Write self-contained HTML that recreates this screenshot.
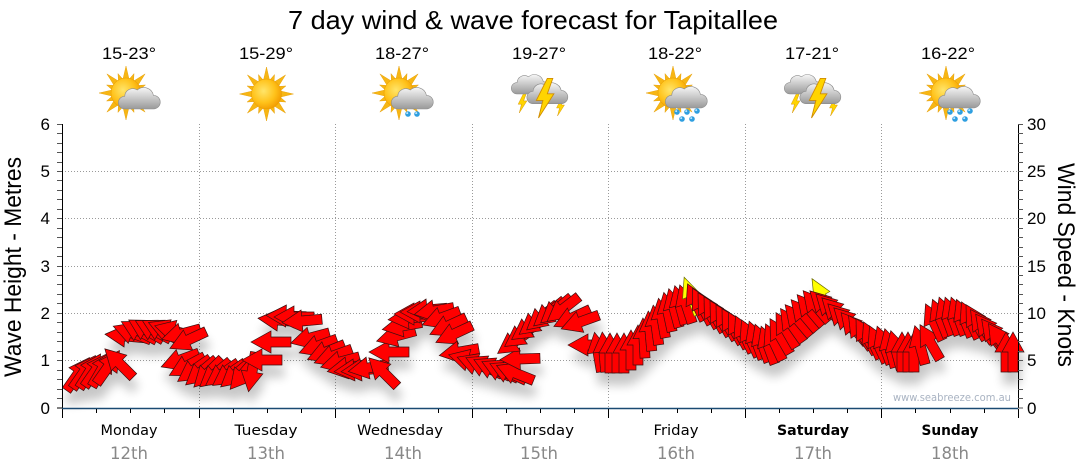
<!DOCTYPE html>
<html>
<head>
<meta charset="utf-8">
<style>
html,body{margin:0;padding:0;background:#fff;}
svg{display:block;}
</style>
</head>
<body>
<svg width="1080" height="475" viewBox="0 0 1080 475" xmlns="http://www.w3.org/2000/svg" xmlns:xlink="http://www.w3.org/1999/xlink">
<defs>
  <radialGradient id="sg" cx="0.4" cy="0.4" r="0.65">
    <stop offset="0" stop-color="#ffe56a"/>
    <stop offset="0.6" stop-color="#ffc21a"/>
    <stop offset="1" stop-color="#f29a00"/>
  </radialGradient>
  <linearGradient id="cg" x1="0" y1="0" x2="0" y2="1">
    <stop offset="0" stop-color="#f6f6f6"/>
    <stop offset="1" stop-color="#9a9a9a"/>
  </linearGradient>
  <g id="sun">
    <g fill="#f7b614" stroke="#e39a00" stroke-width="0.4">
      <polygon points="-3.5,-12 0,-27 3.5,-12"/>
      <polygon points="-3.5,-12 0,-27 3.5,-12" transform="rotate(45)"/>
      <polygon points="-3.5,-12 0,-27 3.5,-12" transform="rotate(90)"/>
      <polygon points="-3.5,-12 0,-27 3.5,-12" transform="rotate(135)"/>
      <polygon points="-3.5,-12 0,-27 3.5,-12" transform="rotate(180)"/>
      <polygon points="-3.5,-12 0,-27 3.5,-12" transform="rotate(225)"/>
      <polygon points="-3.5,-12 0,-27 3.5,-12" transform="rotate(270)"/>
      <polygon points="-3.5,-12 0,-27 3.5,-12" transform="rotate(315)"/>
      <polygon points="-3,-12 0,-21 3,-12" transform="rotate(22.5)"/>
      <polygon points="-3,-12 0,-21 3,-12" transform="rotate(67.5)"/>
      <polygon points="-3,-12 0,-21 3,-12" transform="rotate(112.5)"/>
      <polygon points="-3,-12 0,-21 3,-12" transform="rotate(157.5)"/>
      <polygon points="-3,-12 0,-21 3,-12" transform="rotate(202.5)"/>
      <polygon points="-3,-12 0,-21 3,-12" transform="rotate(247.5)"/>
      <polygon points="-3,-12 0,-21 3,-12" transform="rotate(292.5)"/>
      <polygon points="-3,-12 0,-21 3,-12" transform="rotate(337.5)"/>
    </g>
    <circle r="15" fill="url(#sg)" stroke="#e89c00" stroke-width="0.5"/>
  </g>
  <path id="cloud" d="M-17,11 A7,7 0 0 1 -17,-3 A9,9 0 0 1 -3,-10 A11,11 0 0 1 15,-4 A7.5,7.5 0 0 1 15,11 Z" fill="url(#cg)" stroke="#8c8c8c" stroke-width="0.7"/>
  <polygon id="bolt" points="3,-16 -7,4 -1,4 -5,20 9,-2 3,-2 8,-16" fill="#ffd400" stroke="#d08c00" stroke-width="0.8"/>
  <g id="drop"><circle r="2.8" fill="#2f9fe0"/><circle cx="-0.8" cy="-0.9" r="1" fill="#bfe6ff"/></g>
  <polygon id="a" points="0,-20 11,0 5,0 5,20 -5,20 -5,0 -11,0" fill="#ff0000" stroke="#3a1010" stroke-width="0.7"/>
  <polygon id="ay" points="0,-20 9,0 4,0 4,20 -4,20 -4,0 -9,0" fill="#ffff00" stroke="#6a6a00" stroke-width="0.7"/>
  <filter id="sh" x="-10%" y="-30%" width="120%" height="180%">
    <feGaussianBlur in="SourceAlpha" stdDeviation="5"/>
    <feOffset dx="2" dy="12" result="b"/>
    <feComponentTransfer><feFuncA type="linear" slope="0.22"/></feComponentTransfer>
    <feMerge><feMergeNode/><feMergeNode in="SourceGraphic"/></feMerge>
  </filter>
</defs>

<text x="533" y="29" font-family="'Liberation Sans', 'DejaVu Sans', sans-serif" font-size="26" text-anchor="middle" textLength="490" lengthAdjust="spacingAndGlyphs" fill="#000">7 day wind &amp; wave forecast for Tapitallee</text>

<g font-family="'Liberation Sans', 'DejaVu Sans', sans-serif" font-size="17" text-anchor="middle" fill="#000">
  <text x="129" y="59" textLength="54" lengthAdjust="spacingAndGlyphs">15-23°</text>
  <text x="266" y="59" textLength="54" lengthAdjust="spacingAndGlyphs">15-29°</text>
  <text x="402" y="59" textLength="54" lengthAdjust="spacingAndGlyphs">18-27°</text>
  <text x="539" y="59" textLength="54" lengthAdjust="spacingAndGlyphs">19-27°</text>
  <text x="675" y="59" textLength="54" lengthAdjust="spacingAndGlyphs">18-22°</text>
  <text x="812" y="59" textLength="54" lengthAdjust="spacingAndGlyphs">17-21°</text>
  <text x="948" y="59" textLength="54" lengthAdjust="spacingAndGlyphs">16-22°</text>
</g>

<g transform="translate(130,94)">
  <use xlink:href="#sun" transform="translate(-4,-1)"/>
  <use xlink:href="#cloud" transform="translate(10,5) scale(0.9)"/>
</g>
<g transform="translate(266.5,94)">
  <use xlink:href="#sun"/>
</g>
<g transform="translate(403,94)">
  <use xlink:href="#sun" transform="translate(-4,-1)"/>
  <use xlink:href="#cloud" transform="translate(10,5) scale(0.9)"/>
  <use xlink:href="#drop" transform="translate(5,20)"/>
  <use xlink:href="#drop" transform="translate(14,20)"/>
</g>
<g transform="translate(540,94)">
  <use xlink:href="#bolt" transform="translate(-18,8) scale(0.55)"/>
  <use xlink:href="#cloud" transform="translate(-9,-9) scale(0.82)"/>
  <use xlink:href="#bolt" transform="translate(20,12) scale(0.5)"/>
  <use xlink:href="#cloud" transform="translate(8,0) scale(0.88)"/>
  <use xlink:href="#bolt" transform="translate(4,2) scale(1.1)"/>
</g>
<g transform="translate(677,94)">
  <use xlink:href="#sun" transform="translate(-4,-1)"/>
  <use xlink:href="#cloud" transform="translate(10,4) scale(0.9)"/>
  <use xlink:href="#drop" transform="translate(0,18)"/>
  <use xlink:href="#drop" transform="translate(10,18)"/>
  <use xlink:href="#drop" transform="translate(20,17)"/>
  <use xlink:href="#drop" transform="translate(5,25)"/>
  <use xlink:href="#drop" transform="translate(15,25)"/>
</g>
<g transform="translate(813,94)">
  <use xlink:href="#bolt" transform="translate(-18,8) scale(0.55)"/>
  <use xlink:href="#cloud" transform="translate(-9,-9) scale(0.82)"/>
  <use xlink:href="#bolt" transform="translate(20,12) scale(0.5)"/>
  <use xlink:href="#cloud" transform="translate(8,0) scale(0.88)"/>
  <use xlink:href="#bolt" transform="translate(4,2) scale(1.1)"/>
</g>
<g transform="translate(950,94)">
  <use xlink:href="#sun" transform="translate(-4,-1)"/>
  <use xlink:href="#cloud" transform="translate(10,4) scale(0.9)"/>
  <use xlink:href="#drop" transform="translate(0,18)"/>
  <use xlink:href="#drop" transform="translate(10,18)"/>
  <use xlink:href="#drop" transform="translate(20,17)"/>
  <use xlink:href="#drop" transform="translate(5,25)"/>
  <use xlink:href="#drop" transform="translate(15,25)"/>
</g>

<path d="M62 360.5H1018M62 313.5H1018M62 266.5H1018M62 218.5H1018M62 171.5H1018M199.5 124V408M335.5 124V408M472.5 124V408M608.5 124V408M745.5 124V408M881.5 124V408" stroke="#9a9a9a" stroke-width="1" stroke-dasharray="1,2" fill="none"/>

<text x="1011" y="401" font-family="'DejaVu Sans', 'Liberation Sans', sans-serif" font-size="11" text-anchor="end" fill="#a9b3c2" textLength="118" lengthAdjust="spacingAndGlyphs">www.seabreeze.com.au</text>

<g filter="url(#sh)">
<use xlink:href="#a" transform="translate(78,374) rotate(35)"/>
<use xlink:href="#a" transform="translate(84,372) rotate(35)"/>
<use xlink:href="#a" transform="translate(90,371) rotate(32)"/>
<use xlink:href="#a" transform="translate(96,370) rotate(35)"/>
<use xlink:href="#a" transform="translate(102,369) rotate(30)"/>
<use xlink:href="#a" transform="translate(108,367) rotate(35)"/>
<use xlink:href="#a" transform="translate(119,363) rotate(-45)"/>
<use xlink:href="#a" transform="translate(125,336) rotate(-85)"/>
<use xlink:href="#a" transform="translate(132,333) rotate(-70)"/>
<use xlink:href="#a" transform="translate(139,331) rotate(-62)"/>
<use xlink:href="#a" transform="translate(146,330) rotate(-60)"/>
<use xlink:href="#a" transform="translate(153,330) rotate(-62)"/>
<use xlink:href="#a" transform="translate(160,330) rotate(-62)"/>
<use xlink:href="#a" transform="translate(167,330) rotate(-68)"/>
<use xlink:href="#a" transform="translate(174,331) rotate(-75)"/>
<use xlink:href="#a" transform="translate(181,334) rotate(-105)"/>
<use xlink:href="#a" transform="translate(188,340) rotate(-115)"/>
<use xlink:href="#a" transform="translate(180,360) rotate(-110)"/>
<use xlink:href="#a" transform="translate(187,366) rotate(-118)"/>
<use xlink:href="#a" transform="translate(194,370) rotate(-125)"/>
<use xlink:href="#a" transform="translate(201,372) rotate(-130)"/>
<use xlink:href="#a" transform="translate(208,373) rotate(-135)"/>
<use xlink:href="#a" transform="translate(215,374) rotate(-130)"/>
<use xlink:href="#a" transform="translate(222,374) rotate(-125)"/>
<use xlink:href="#a" transform="translate(229,374) rotate(-125)"/>
<use xlink:href="#a" transform="translate(236,374) rotate(-130)"/>
<use xlink:href="#a" transform="translate(243,374) rotate(-140)"/>
<use xlink:href="#a" transform="translate(252,372) rotate(-170)"/>
<use xlink:href="#a" transform="translate(262,360) rotate(-90)"/>
<use xlink:href="#a" transform="translate(271,342) rotate(-90)"/>
<use xlink:href="#a" transform="translate(278,320) rotate(-85)"/>
<use xlink:href="#a" transform="translate(286,316) rotate(-88)"/>
<use xlink:href="#a" transform="translate(294,317) rotate(-90)"/>
<use xlink:href="#a" transform="translate(302,321) rotate(-95)"/>
<use xlink:href="#a" transform="translate(310,338) rotate(-105)"/>
<use xlink:href="#a" transform="translate(318,346) rotate(-110)"/>
<use xlink:href="#a" transform="translate(326,352) rotate(-112)"/>
<use xlink:href="#a" transform="translate(333,356) rotate(-110)"/>
<use xlink:href="#a" transform="translate(340,362) rotate(-105)"/>
<use xlink:href="#a" transform="translate(347,368) rotate(-100)"/>
<use xlink:href="#a" transform="translate(354,370) rotate(-95)"/>
<use xlink:href="#a" transform="translate(361,370) rotate(-95)"/>
<use xlink:href="#a" transform="translate(368,368) rotate(-100)"/>
<use xlink:href="#a" transform="translate(383,372) rotate(-45)"/>
<use xlink:href="#a" transform="translate(389,352) rotate(-90)"/>
<use xlink:href="#a" transform="translate(396,336) rotate(-105)"/>
<use xlink:href="#a" transform="translate(402,326) rotate(-100)"/>
<use xlink:href="#a" transform="translate(408,318) rotate(-95)"/>
<use xlink:href="#a" transform="translate(414,314) rotate(-90)"/>
<use xlink:href="#a" transform="translate(420,312) rotate(-90)"/>
<use xlink:href="#a" transform="translate(427,310) rotate(-95)"/>
<use xlink:href="#a" transform="translate(434,311) rotate(-100)"/>
<use xlink:href="#a" transform="translate(441,318) rotate(-110)"/>
<use xlink:href="#a" transform="translate(448,326) rotate(-115)"/>
<use xlink:href="#a" transform="translate(454,334) rotate(-115)"/>
<use xlink:href="#a" transform="translate(459,352) rotate(-100)"/>
<use xlink:href="#a" transform="translate(468,360) rotate(-75)"/>
<use xlink:href="#a" transform="translate(476,364) rotate(-70)"/>
<use xlink:href="#a" transform="translate(484,366) rotate(-65)"/>
<use xlink:href="#a" transform="translate(492,368) rotate(-65)"/>
<use xlink:href="#a" transform="translate(500,370) rotate(-65)"/>
<use xlink:href="#a" transform="translate(508,372) rotate(-65)"/>
<use xlink:href="#a" transform="translate(515,373) rotate(-68)"/>
<use xlink:href="#a" transform="translate(520,359) rotate(-92)"/>
<use xlink:href="#a" transform="translate(514,342) rotate(-125)"/>
<use xlink:href="#a" transform="translate(521,335) rotate(-125)"/>
<use xlink:href="#a" transform="translate(528,328) rotate(-125)"/>
<use xlink:href="#a" transform="translate(535,322) rotate(-128)"/>
<use xlink:href="#a" transform="translate(542,317) rotate(-130)"/>
<use xlink:href="#a" transform="translate(549,313) rotate(-130)"/>
<use xlink:href="#a" transform="translate(556,310) rotate(-130)"/>
<use xlink:href="#a" transform="translate(563,309) rotate(-128)"/>
<use xlink:href="#a" transform="translate(572,318) rotate(-115)"/>
<use xlink:href="#a" transform="translate(580,322) rotate(-110)"/>
<use xlink:href="#a" transform="translate(588,345) rotate(-90)"/>
<use xlink:href="#a" transform="translate(598,352) rotate(-10)"/>
<use xlink:href="#a" transform="translate(604,352) rotate(-5)"/>
<use xlink:href="#a" transform="translate(610,353) rotate(0)"/>
<use xlink:href="#a" transform="translate(617,353) rotate(0)"/>
<use xlink:href="#a" transform="translate(624,353) rotate(0)"/>
<use xlink:href="#a" transform="translate(631,350) rotate(0)"/>
<use xlink:href="#a" transform="translate(638,345) rotate(0)"/>
<use xlink:href="#a" transform="translate(644,338) rotate(-3)"/>
<use xlink:href="#a" transform="translate(650,331) rotate(-5)"/>
<use xlink:href="#a" transform="translate(656,325) rotate(-8)"/>
<use xlink:href="#a" transform="translate(662,318) rotate(-10)"/>
<use xlink:href="#a" transform="translate(668,312) rotate(-12)"/>
<use xlink:href="#a" transform="translate(674,308) rotate(-15)"/>
<use xlink:href="#a" transform="translate(680,305) rotate(-15)"/>
<use xlink:href="#a" transform="translate(686,304) rotate(-18)"/>
<use xlink:href="#ay" transform="translate(691,296) rotate(-20)"/>
<use xlink:href="#a" transform="translate(696,302) rotate(-25)"/>
<use xlink:href="#a" transform="translate(702,306) rotate(-28)"/>
<use xlink:href="#a" transform="translate(708,310) rotate(-30)"/>
<use xlink:href="#a" transform="translate(714,314) rotate(-30)"/>
<use xlink:href="#a" transform="translate(720,318) rotate(-30)"/>
<use xlink:href="#a" transform="translate(726,322) rotate(-30)"/>
<use xlink:href="#a" transform="translate(732,326) rotate(-30)"/>
<use xlink:href="#a" transform="translate(738,330) rotate(-28)"/>
<use xlink:href="#a" transform="translate(744,334) rotate(-25)"/>
<use xlink:href="#a" transform="translate(750,338) rotate(-25)"/>
<use xlink:href="#a" transform="translate(756,340) rotate(-20)"/>
<use xlink:href="#a" transform="translate(762,343) rotate(-20)"/>
<use xlink:href="#a" transform="translate(768,345) rotate(-20)"/>
<use xlink:href="#a" transform="translate(774,342) rotate(-25)"/>
<use xlink:href="#a" transform="translate(780,336) rotate(-30)"/>
<use xlink:href="#a" transform="translate(786,330) rotate(-30)"/>
<use xlink:href="#a" transform="translate(792,325) rotate(-35)"/>
<use xlink:href="#a" transform="translate(798,320) rotate(-40)"/>
<use xlink:href="#a" transform="translate(804,315) rotate(-40)"/>
<use xlink:href="#a" transform="translate(810,310) rotate(-40)"/>
<use xlink:href="#ay" transform="translate(822,296) rotate(-30)"/>
<use xlink:href="#a" transform="translate(816,306) rotate(-40)"/>
<use xlink:href="#a" transform="translate(824,305) rotate(-45)"/>
<use xlink:href="#a" transform="translate(830,308) rotate(-45)"/>
<use xlink:href="#a" transform="translate(836,312) rotate(-45)"/>
<use xlink:href="#a" transform="translate(842,318) rotate(-45)"/>
<use xlink:href="#a" transform="translate(848,322) rotate(-45)"/>
<use xlink:href="#a" transform="translate(854,328) rotate(-40)"/>
<use xlink:href="#a" transform="translate(860,332) rotate(-35)"/>
<use xlink:href="#a" transform="translate(866,336) rotate(-30)"/>
<use xlink:href="#a" transform="translate(872,340) rotate(-25)"/>
<use xlink:href="#a" transform="translate(878,344) rotate(-25)"/>
<use xlink:href="#a" transform="translate(884,345) rotate(-20)"/>
<use xlink:href="#a" transform="translate(890,348) rotate(-15)"/>
<use xlink:href="#a" transform="translate(896,350) rotate(-15)"/>
<use xlink:href="#a" transform="translate(902,352) rotate(0)"/>
<use xlink:href="#a" transform="translate(908,352) rotate(0)"/>
<use xlink:href="#a" transform="translate(914,352) rotate(0)"/>
<use xlink:href="#a" transform="translate(920,345) rotate(-15)"/>
<use xlink:href="#a" transform="translate(930,342) rotate(-30)"/>
<use xlink:href="#a" transform="translate(934,322) rotate(-25)"/>
<use xlink:href="#a" transform="translate(940,318) rotate(-22)"/>
<use xlink:href="#a" transform="translate(946,316) rotate(-20)"/>
<use xlink:href="#a" transform="translate(952,316) rotate(-20)"/>
<use xlink:href="#a" transform="translate(958,316) rotate(-20)"/>
<use xlink:href="#a" transform="translate(964,318) rotate(-22)"/>
<use xlink:href="#a" transform="translate(970,320) rotate(-25)"/>
<use xlink:href="#a" transform="translate(976,322) rotate(-30)"/>
<use xlink:href="#a" transform="translate(982,326) rotate(-35)"/>
<use xlink:href="#a" transform="translate(988,330) rotate(-38)"/>
<use xlink:href="#a" transform="translate(994,335) rotate(-38)"/>
<use xlink:href="#a" transform="translate(1000,340) rotate(-35)"/>
<use xlink:href="#a" transform="translate(1006,352) rotate(0)"/>
<use xlink:href="#a" transform="translate(1013,352) rotate(0)"/>
</g>

<path d="M62.5 124V418M1018.5 124V408M57 408H62" stroke="#000" stroke-width="1" fill="none"/>
<line x1="62" y1="408.5" x2="1018" y2="408.5" stroke="#1a4a72" stroke-width="1.5"/>

<path d="M57 124.5h5M57 133.5h5M57 143.5h5M57 152.5h5M57 162.5h5M57 171.5h5M57 180.5h5M57 190.5h5M57 199.5h5M57 209.5h5M57 218.5h5M57 228.5h5M57 237.5h5M57 247.5h5M57 256.5h5M57 266.5h5M57 275.5h5M57 284.5h5M57 294.5h5M57 303.5h5M57 313.5h5M57 322.5h5M57 332.5h5M57 341.5h5M57 351.5h5M57 360.5h5M57 370.5h5M57 379.5h5M57 389.5h5M57 398.5h5M1018 124.5h5M1018 133.5h5M1018 143.5h5M1018 152.5h5M1018 162.5h5M1018 171.5h5M1018 180.5h5M1018 190.5h5M1018 199.5h5M1018 209.5h5M1018 218.5h5M1018 228.5h5M1018 237.5h5M1018 247.5h5M1018 256.5h5M1018 266.5h5M1018 275.5h5M1018 284.5h5M1018 294.5h5M1018 303.5h5M1018 313.5h5M1018 322.5h5M1018 332.5h5M1018 341.5h5M1018 351.5h5M1018 360.5h5M1018 370.5h5M1018 379.5h5M1018 389.5h5M1018 398.5h5M1018 408h5" stroke="#555" stroke-width="1" fill="none"/>

<path d="M62.5 409v9M96.5 409v4M130.5 409v4M164.5 409v4M199.5 409v9M233.5 409v4M267.5 409v4M301.5 409v4M335.5 409v9M369.5 409v4M403.5 409v4M438.5 409v4M472.5 409v9M506.5 409v4M540.5 409v4M574.5 409v4M608.5 409v9M642.5 409v4M677.5 409v4M711.5 409v4M745.5 409v9M779.5 409v4M813.5 409v4M847.5 409v4M881.5 409v9M915.5 409v4M950.5 409v4M984.5 409v4M1018.5 409v9" stroke="#000" stroke-width="1" fill="none"/>

<g font-family="'Liberation Sans', 'DejaVu Sans', sans-serif" font-size="17" fill="#000" text-anchor="end">
  <text x="50" y="130">6</text>
  <text x="50" y="177">5</text>
  <text x="50" y="224">4</text>
  <text x="50" y="272">3</text>
  <text x="50" y="319">2</text>
  <text x="50" y="366">1</text>
  <text x="50" y="414">0</text>
</g>
<g font-family="'Liberation Sans', 'DejaVu Sans', sans-serif" font-size="17" fill="#000" text-anchor="start">
  <text x="1027" y="130">30</text>
  <text x="1027" y="177">25</text>
  <text x="1027" y="224">20</text>
  <text x="1027" y="272">15</text>
  <text x="1027" y="319">10</text>
  <text x="1027" y="366">5</text>
  <text x="1027" y="414">0</text>
</g>

<text transform="translate(21,267) rotate(-90)" font-family="'Liberation Sans', 'DejaVu Sans', sans-serif" font-size="24" text-anchor="middle" textLength="220" lengthAdjust="spacingAndGlyphs" fill="#000">Wave Height - Metres</text>
<text transform="translate(1058,265) rotate(90)" font-family="'Liberation Sans', 'DejaVu Sans', sans-serif" font-size="24" text-anchor="middle" textLength="204" lengthAdjust="spacingAndGlyphs" fill="#000">Wind Speed - Knots</text>

<g font-family="'DejaVu Sans', 'Liberation Sans', sans-serif" font-size="14.5" fill="#000" text-anchor="middle">
  <text x="129" y="435" textLength="57" lengthAdjust="spacingAndGlyphs">Monday</text>
  <text x="266" y="435" textLength="63" lengthAdjust="spacingAndGlyphs">Tuesday</text>
  <text x="400" y="435" textLength="86" lengthAdjust="spacingAndGlyphs">Wednesday</text>
  <text x="539" y="435" textLength="70" lengthAdjust="spacingAndGlyphs">Thursday</text>
  <text x="676" y="435" textLength="45" lengthAdjust="spacingAndGlyphs">Friday</text>
  <text x="813" y="435" font-weight="bold" textLength="72" lengthAdjust="spacingAndGlyphs">Saturday</text>
  <text x="950" y="435" font-weight="bold" textLength="57" lengthAdjust="spacingAndGlyphs">Sunday</text>
</g>
<g font-family="'DejaVu Sans', 'Liberation Sans', sans-serif" font-size="17" fill="#888" text-anchor="middle">
  <text x="129" y="459" textLength="38" lengthAdjust="spacingAndGlyphs">12th</text>
  <text x="266" y="459" textLength="38" lengthAdjust="spacingAndGlyphs">13th</text>
  <text x="403" y="459" textLength="38" lengthAdjust="spacingAndGlyphs">14th</text>
  <text x="539" y="459" textLength="38" lengthAdjust="spacingAndGlyphs">15th</text>
  <text x="676" y="459" textLength="38" lengthAdjust="spacingAndGlyphs">16th</text>
  <text x="813" y="459" textLength="38" lengthAdjust="spacingAndGlyphs">17th</text>
  <text x="950" y="459" textLength="38" lengthAdjust="spacingAndGlyphs">18th</text>
</g>
</svg>
</body>
</html>
